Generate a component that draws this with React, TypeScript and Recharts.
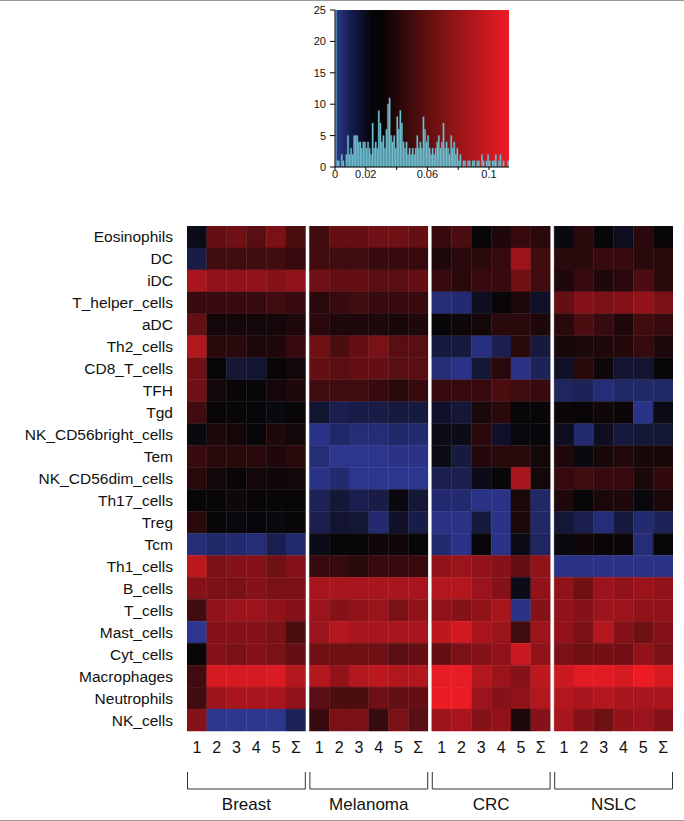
import React from 'react';
import { BarChart, Bar, XAxis, YAxis, CartesianGrid, Cell } from 'recharts';

// histogram (top)
const HIST_BIN = 0.001;
const HIST_MAX = 0.113;
const HIST_COUNTS = [
  25, 1, 1, 0, 2, 1, 0, 2, 5, 2, 3, 2, 5, 5, 5, 4, 4, 3, 4, 4,
  3, 4, 3, 2, 7, 3, 4, 3, 9, 7, 4, 5, 3, 6, 10, 11, 5, 4, 5, 3,
  8, 6, 9, 7, 4, 3, 4, 2, 3, 2, 3, 2, 3, 5, 3, 4, 3, 8, 6, 4,
  5, 3, 2, 3, 2, 3, 4, 5, 3, 4, 7, 3, 4, 3, 2, 5, 3, 4, 2, 3,
  1, 2, 0, 1, 1, 0, 1, 1, 0, 1, 1, 0, 1, 1, 0, 2, 1, 0, 1, 2,
  1, 0, 1, 1, 2, 0, 1, 2, 0, 1, 0, 0, 1,
];
const HIST_X_TICKS = [0, 0.02, 0.04, 0.06, 0.08, 0.1];
const HIST_X_LABELS = ['0', '0.02', '', '0.06', '', '0.1'];
const HIST_Y_TICKS = [0, 5, 10, 15, 20, 25];

// heatmap
const ROWS = [
  'Eosinophils', 'DC', 'iDC', 'T_helper_cells', 'aDC', 'Th2_cells', 'CD8_T_cells', 'TFH', 'Tgd',
  'NK_CD56bright_cells', 'Tem', 'NK_CD56dim_cells', 'Th17_cells', 'Treg', 'Tcm', 'Th1_cells',
  'B_cells', 'T_cells', 'Mast_cells', 'Cyt_cells', 'Macrophages', 'Neutrophils', 'NK_cells',
];
const GROUPS = ['Breast', 'Melanoma', 'CRC', 'NSLC'];
const COLS = ['1', '2', '3', '4', '5', 'Σ'];

// -10 = full blue, 0 = black, 10 = full red
const BREAST = [
  [-1, 4, 4.5, 3.5, 5, 3],
  [-4, 2.5, 2.5, 2.5, 2.5, 2],
  [7, 6, 6, 6, 5.5, 6],
  [2, 2, 2, 2, 2.5, 2],
  [4, 0.5, 0.5, 0.5, 0.5, 1],
  [7.5, 1.5, 1.5, 1, 1, 2],
  [4.5, 0, -3, -2.5, 0, 0.5],
  [4.5, 0.5, 0, 0, 0.5, 1],
  [2.5, 0, 0, 0, -0.5, 0],
  [-0.5, 1, 0.5, 0, 1, 0.5],
  [2, 1.5, 1.5, 1.5, 1, 1.5],
  [1.5, 0.5, 0, 0.5, 0.3, 0.5],
  [0, 0, 0.3, 0, 0, 0],
  [1.5, 0, -0.3, 0, -0.5, 0],
  [-7, -6, -6.5, -7, -4.5, -6.5],
  [8, 5, 5.5, 5.5, 4.5, 5.5],
  [5.5, 5, 5, 5.5, 5, 5],
  [2.5, 6, 6.5, 6.5, 6, 5.5],
  [-8.5, 5.5, 5.5, 5.5, 5, 3],
  [0, 5.5, 5, 5.5, 5, 4],
  [2.5, 9, 9, 9, 9.3, 7.5],
  [2.5, 6.5, 7, 7, 7, 6],
  [5.5, -8.5, -8.5, -8.5, -8.5, -5],
];
const MELANOMA = [
  [2.5, 4, 4, 4.5, 4.5, 4],
  [2.5, 2.5, 2.5, 2, 2, 2],
  [4.5, 4, 4, 3.5, 3.5, 4],
  [1.5, 2, 2.5, 2, 2, 2],
  [1.5, 1, 1, 1, 0.7, 1],
  [4.5, 3, 4, 5, 3.5, 3.5],
  [4, 3.5, 4, 4, 3.5, 3.5],
  [2.5, 2.5, 2.5, 2, 1.5, 2],
  [-2.5, -4.5, -4, -4, -3.5, -3.5],
  [-8, -6, -7, -7, -6, -6.5],
  [-7, -8.5, -8.5, -8.5, -8, -8],
  [-8, -6.5, -8.5, -8.5, -8.5, -8.5],
  [-5, -3, -4.5, -4, -0.5, -3],
  [-4.5, -2.5, -3, -6.5, -2, -4],
  [-1, 0, 0, 0.3, 0.3, 0],
  [2, 2, 1.5, 2, 2, 2],
  [7, 7, 7, 7, 7, 7],
  [6.5, 5.5, 6, 6.5, 5, 6],
  [6.5, 7.5, 7, 7, 7, 7],
  [4.5, 4.5, 4.5, 4.5, 3.5, 4],
  [7.5, 6, 7.5, 8, 7.5, 7.5],
  [3.5, 3, 3, 4.5, 4, 4],
  [2, 5, 5, 2, 5, 3.5],
];
const CRC = [
  [2, 3, 0, 1, 2, 1.5],
  [1, 1.5, 1.5, 2, 6.5, 2.5],
  [2, 1.5, 2, 2, 4.5, 2.5],
  [-7, -6.5, -1.5, 0, 1, -2],
  [0, 0.3, 0.5, 1.5, 1.5, 1],
  [-3.5, -3.5, -7.5, -4.5, 1.5, -3.5],
  [-7, -8, -3, 1.5, -8, -5],
  [2, 2, 2, 3, 2.5, 2],
  [-2, -3, 0.8, 1.5, 0, 0],
  [-1, -1, 1.5, -2, -0.3, 0],
  [-1, -3.5, 1.2, 1.5, 1.5, 0.5],
  [-4.5, -4.5, -1, 0, 7, 0.5],
  [-6.5, -6.5, -8, -8, 0.8, -6],
  [-8, -8, -3.5, -8, 0.8, -6],
  [-6.5, -8, 0, -8, -1, -5.5],
  [6, 6.5, 6, 5.5, 4, 6],
  [7.5, 7.5, 6.5, 5.5, -1, 6],
  [6, 5.5, 6, 7, -8, 5.5],
  [8, 8.8, 7, 6.5, 2.5, 6.5],
  [4, 5, 5.5, 6, 8.5, 6],
  [9.8, 9.8, 7.5, 6.5, 5.5, 8],
  [10, 10, 6.5, 5.5, 6, 7.5],
  [6.5, 7, 5.5, 6, 1, 5.5],
];
const NSLC = [
  [-0.5, 1.5, 0, -1.5, 1.5, 0],
  [1.5, 1.5, 2, 2, 1.5, 1.5],
  [1, 2, 1, 1.5, 3, 1.5],
  [4, 5.5, 5, 5.5, 6, 5],
  [1.5, 3, 2, 1, 2.5, 2],
  [0.7, 0.8, 1, 1.2, 2, 1],
  [-2, 1.5, 0.3, -2.5, -2.5, 0],
  [-5.5, -5, -7, -6, -6, -6],
  [0.2, 0.1, 0.3, 0.2, -8, -0.8],
  [-1.5, -6.5, -1.5, -3.5, -3, -3],
  [1, -0.5, 0.7, 1.2, 0.7, 0.7],
  [2, 2.5, 2, 2, 0.8, 1.8],
  [1, 0, 0.8, 1, -0.3, 0.8],
  [-3, -4.5, -7, -3.5, -6.5, -5],
  [-0.3, 0.3, 0, 0.2, -7, 0],
  [-8, -8, -8, -8, -8, -8],
  [6, 4.5, 6.5, 6, 6.5, 6],
  [6, 5.5, 6.5, 6.5, 6, 6],
  [6, 5, 7.5, 5.5, 4.5, 5.5],
  [5, 4.5, 4.7, 4.7, 6, 5],
  [8.5, 9.5, 9.5, 9, 10, 9],
  [7.5, 7, 7.5, 7, 7, 7],
  [7, 5.5, 4.5, 6, 6.5, 5.5],
];

const FONT = '"Liberation Sans", Arial, Helvetica, sans-serif';
const GROUP_DATA = [BREAST, MELANOMA, CRC, NSLC];
const GAP = 0.18;
const TOTAL = 24 + GAP * 3;
const HEAT_LEFT = 187;
const HEAT_RIGHT = 11;
const PX_PER_UNIT = (684 - HEAT_LEFT - HEAT_RIGHT) / TOTAL;
const HIST_PLOT_W = 174;

function heatColor(v: number) {
  const t = Math.min(Math.abs(v) / 10, 1);
  const lo = [8, 6, 8];
  const hi = v >= 0 ? [236, 28, 37] : [50, 62, 166];
  const c = lo.map((l, k) => Math.round(l + (hi[k] - l) * t));
  return `rgb(${c.join(',')})`;
}

const histData = HIST_COUNTS.map((count, i) => ({ x: (i + 0.5) * HIST_BIN, count }));

const heatRows = ROWS.map((name, r) => {
  const row: Record<string, number | string> = { name };
  GROUP_DATA.forEach((g, gi) => {
    g[r].forEach((v, ci) => {
      row[`h${gi * 6 + ci}`] = v;
      row[`w${gi * 6 + ci}`] = 1;
    });
    row[`gap${gi}`] = GAP;
  });
  return row;
});

const COL_TICKS: number[] = [];
GROUPS.forEach((_, gi) => COLS.forEach((__, ci) => COL_TICKS.push(gi * (6 + GAP) + ci + 0.5)));
const GROUP_CENTERS = GROUPS.map((_, gi) => gi * (6 + GAP) + 3);

const GroupTick = (props: any) => {
  const { x, y, payload } = props;
  const gi = GROUP_CENTERS.findIndex((c) => Math.abs(c - payload.value) < 1e-6);
  const half = 3 * PX_PER_UNIT;
  return (
    <g>
      <path
        d={`M${x - half + 0.5},${y + 11} V${y + 28} H${x + half - 0.5} V${y + 11}`}
        stroke="#333"
        strokeWidth={1}
        fill="none"
      />
      <text x={x} y={y + 49} textAnchor="middle" fontSize={17} fill="#111" fontFamily={FONT}>
        {GROUPS[gi]}
      </text>
    </g>
  );
};

const heatBars: React.ReactNode[] = [];
GROUPS.forEach((_, gi) => {
  COLS.forEach((__, ci) => {
    const k = gi * 6 + ci;
    heatBars.push(
      <Bar key={`w${k}`} dataKey={`w${k}`} stackId="s" xAxisId="col" isAnimationActive={false}>
        {heatRows.map((row, r) => {
          const col = heatColor(row[`h${k}`] as number);
          return <Cell key={r} fill={col} stroke={col} strokeWidth={0.4} />;
        })}
      </Bar>
    );
  });
  if (gi < GROUPS.length - 1) {
    heatBars.push(
      <Bar key={`gap${gi}`} dataKey={`gap${gi}`} stackId="s" xAxisId="col" fill="#ffffff" isAnimationActive={false} />
    );
  }
});

export default function App() {
  return (
    <div style={{ position: 'absolute', left: 0, top: 0, width: 684, height: 821, background: '#fff', fontFamily: FONT }}>
      <div style={{ position: 'absolute', left: 0, top: 0, width: 684, height: 1, background: '#9a9a9a' }} />
      <div style={{ position: 'absolute', left: 0, top: 820, width: 684, height: 1, background: '#9a9a9a' }} />

      <div style={{ position: 'absolute', left: 300, top: 0 }}>
        <BarChart
          width={220}
          height={195}
          data={histData}
          margin={{ top: 10, right: 11, bottom: 6, left: 5 }}
          barCategoryGap={0}
          barGap={0}
        >
          <defs>
            <linearGradient id="histBg" x1="0" y1="0" x2="1" y2="0">
              <stop offset="0" stopColor="#2e3a8f" />
              <stop offset="0.1" stopColor="#141a4a" />
              <stop offset="0.21" stopColor="#050508" />
              <stop offset="0.27" stopColor="#070304" />
              <stop offset="0.6" stopColor="#781212" />
              <stop offset="1" stopColor="#ee1c25" />
            </linearGradient>
          </defs>
          <CartesianGrid horizontal={false} vertical={false} fill="url(#histBg)" />
          <XAxis
            dataKey="x"
            type="number"
            domain={[0, HIST_MAX]}
            ticks={HIST_X_TICKS}
            interval={0}
            allowDataOverflow
            tickFormatter={(v: number) => HIST_X_LABELS[HIST_X_TICKS.findIndex((t) => Math.abs(t - v) < 1e-9)]}
            stroke="#000"
            tickSize={3}
            tickMargin={0}
            height={22}
            tick={{ fontSize: 11, fill: '#111', fontFamily: FONT }}
          />
          <YAxis
            type="number"
            domain={[0, 25]}
            ticks={HIST_Y_TICKS}
            interval={0}
            width={30}
            stroke="#000"
            tickSize={5}
            tickMargin={4}
            tick={{ fontSize: 11, fill: '#111', fontFamily: FONT }}
          />
          <Bar
            dataKey="count"
            barSize={HIST_PLOT_W / HIST_COUNTS.length}
            fill="#74cfe0"
            stroke="#5d93a5"
            strokeWidth={0.4}
            isAnimationActive={false}
          />
        </BarChart>
      </div>

      <div style={{ position: 'absolute', left: 0, top: 226 }}>
        <BarChart
          width={684}
          height={595}
          data={heatRows}
          layout="vertical"
          margin={{ top: 0, right: HEAT_RIGHT, bottom: 0, left: 0 }}
          barCategoryGap={0}
          barGap={0}
        >
          <XAxis
            xAxisId="col"
            type="number"
            domain={[0, TOTAL]}
            ticks={COL_TICKS}
            interval={0}
            allowDataOverflow
            tickFormatter={(v: number) => COLS[COL_TICKS.findIndex((t) => Math.abs(t - v) < 1e-6) % 6]}
            axisLine={false}
            tickLine={false}
            tickSize={0}
            tickMargin={11}
            height={30}
            tick={{ fontSize: 16, fill: '#111', fontFamily: FONT }}
          />
          <XAxis
            xAxisId="grp"
            type="number"
            domain={[0, TOTAL]}
            ticks={GROUP_CENTERS}
            interval={0}
            allowDataOverflow
            axisLine={false}
            tickLine={false}
            tickSize={0}
            tickMargin={0}
            height={60}
            tick={<GroupTick />}
          />
          <YAxis
            type="category"
            dataKey="name"
            width={HEAT_LEFT}
            interval={0}
            axisLine={false}
            tickLine={false}
            tickSize={0}
            tickMargin={14}
            tick={{ fontSize: 15.5, fill: '#111', fontFamily: FONT }}
          />
          {heatBars}
        </BarChart>
      </div>
    </div>
  );
}
